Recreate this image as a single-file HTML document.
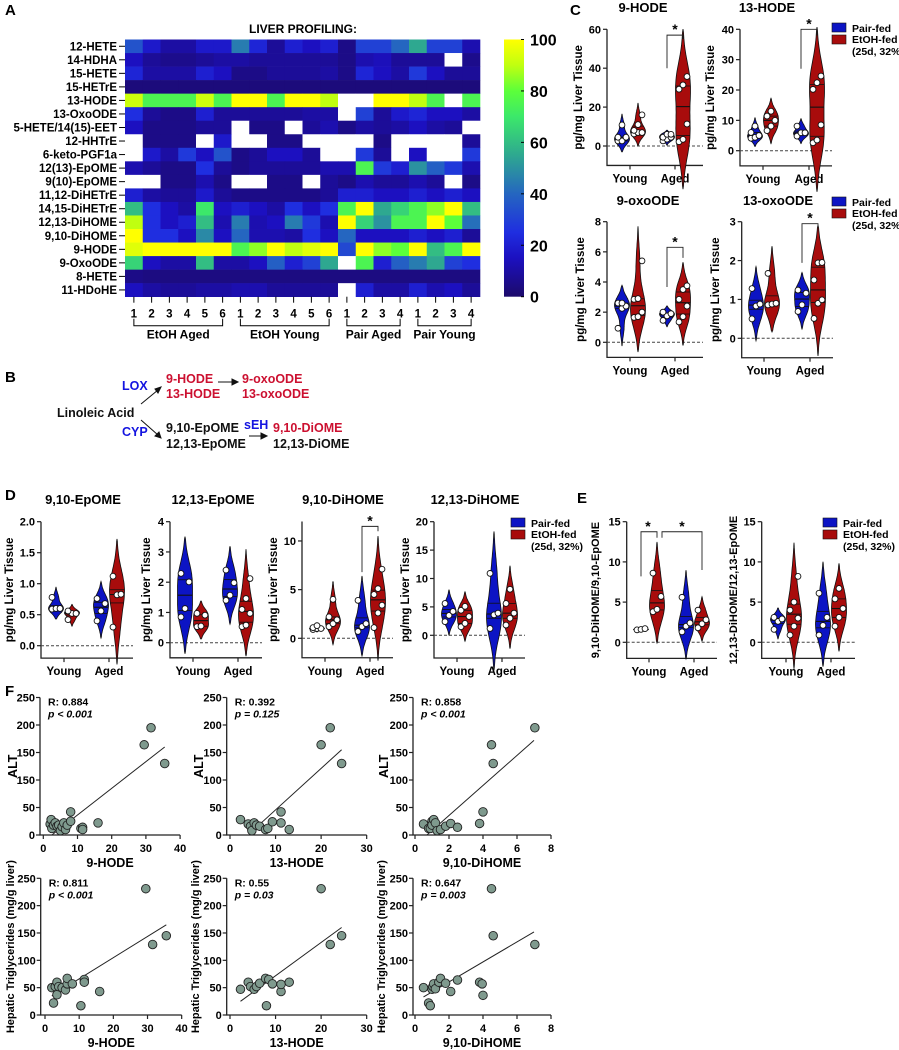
<!DOCTYPE html>
<html><head><meta charset="utf-8">
<style>
html,body{margin:0;padding:0;background:#fff;}
svg{display:block;font-family:"Liberation Sans",Arial,sans-serif;font-weight:bold;}
</style></head>
<body>
<svg id="fig" width="899" height="1050" viewBox="0 0 899 1050" xmlns="http://www.w3.org/2000/svg">
<defs>
<linearGradient id="cbar" x1="0" y1="1" x2="0" y2="0">
<stop offset="0" stop-color="#1c0a6a"/><stop offset="0.15" stop-color="#1c10c0"/><stop offset="0.25" stop-color="#1f2ee0"/><stop offset="0.4" stop-color="#2566c0"/><stop offset="0.55" stop-color="#2ea890"/><stop offset="0.7" stop-color="#3ce86a"/><stop offset="0.8" stop-color="#5cff3a"/><stop offset="0.9" stop-color="#c0ff10"/><stop offset="1" stop-color="#ffff00"/>
</linearGradient>
</defs>
<text x="5" y="15" font-size="15">A</text>
<text x="303" y="33" font-size="12" text-anchor="middle">LIVER PROFILING:</text>
<text x="5" y="382" font-size="15">B</text>
<text x="570" y="15" font-size="15">C</text>
<text x="5" y="500" font-size="15">D</text>
<text x="577" y="503" font-size="15">E</text>
<text x="5" y="696" font-size="15">F</text>
<g font-size="12.5">
<text x="122" y="390" fill="#1414e0">LOX</text>
<text x="166" y="383" fill="#cc1030">9-HODE</text>
<text x="166" y="398" fill="#cc1030">13-HODE</text>
<text x="242" y="383" fill="#cc1030">9-oxoODE</text>
<text x="242" y="398" fill="#cc1030">13-oxoODE</text>
<text x="57" y="417" fill="#111">Linoleic Acid</text>
<text x="122" y="436" fill="#1414e0">CYP</text>
<text x="166" y="432" fill="#111">9,10-EpOME</text>
<text x="166" y="448" fill="#111">12,13-EpOME</text>
<text x="244" y="429" fill="#1414e0">sEH</text>
<text x="273" y="432" fill="#cc1030">9,10-DiOME</text>
<text x="273" y="448" fill="#111">12,13-DiOME</text>
<g stroke="#111" stroke-width="1" fill="#111">
<line x1="141" y1="404" x2="158" y2="390"/><path d="M161,387 l-6,2 l3,4z"/>
<line x1="141" y1="420" x2="158" y2="435"/><path d="M161,438 l-2,-6 l-4,4z"/>
<line x1="218" y1="382" x2="234" y2="382"/><path d="M238,382 l-6,-3 v6z"/>
<line x1="249" y1="436" x2="263" y2="436"/><path d="M267,436 l-6,-3 v6z"/>
</g>
</g>
<g id="heat"></g>
<g id="violins"></g>
<g id="scatters"></g>
</svg>
<script>
// ===== Heatmap data =====
const hmRows = ["12-HETE","14-HDHA","15-HETE","15-HETrE","13-HODE","13-OxoODE","5-HETE/14(15)-EET","12-HHTrE","6-keto-PGF1a","12(13)-EpOME","9(10)-EpOME","11,12-DiHETrE","14,15-DiHETrE","12,13-DiHOME","9,10-DiHOME","9-HODE","9-OxoODE","8-HETE","11-HDoHE"];
const hmCols = ["1","2","3","4","5","6","1","2","3","4","5","6","1","2","3","4","1","2","3","4"];
const hmGroups = ["EtOH Aged","EtOH Young","Pair Aged","Pair Young"];
const hmGroupSizes = [6,6,4,4];
const cbTicks = [0,20,40,60,80,100];
const N = null;
const hmValues = [
[35,18,10,10,18,18,45,22,8,20,15,20,5,30,30,40,55,30,30,12],
[15,8,6,6,8,10,10,8,8,8,8,8,5,12,14,8,8,8,N,6],
[22,10,10,10,20,15,5,5,8,8,8,10,5,22,15,10,28,15,8,8],
[3,3,3,3,3,3,3,3,3,3,3,3,3,3,3,3,3,3,3,3],
[92,75,75,75,92,75,100,100,75,100,100,90,N,N,100,100,90,75,N,75],
[25,8,5,5,20,8,8,8,8,8,10,10,N,30,8,18,22,15,15,10],
[15,5,5,5,8,8,N,5,5,N,8,12,5,10,8,10,15,10,8,N],
[N,5,5,5,N,18,N,N,5,5,N,N,N,N,5,N,N,N,N,8],
[N,18,10,28,15,35,5,8,15,15,8,N,N,28,8,N,15,N,N,28],
[12,8,5,5,25,8,5,8,8,8,8,12,12,75,28,20,50,38,28,12],
[N,N,5,5,12,5,N,N,5,5,N,8,5,12,8,8,12,8,N,5],
[20,10,8,8,18,8,5,5,5,5,5,8,20,20,15,15,20,15,20,15],
[60,25,15,10,70,15,20,15,10,25,15,25,75,100,55,65,75,85,100,60],
[90,25,15,20,60,12,45,12,15,45,28,12,100,65,50,75,75,100,80,42],
[100,25,25,15,48,15,40,12,12,10,25,15,40,15,15,15,20,15,20,8],
[95,100,100,100,100,100,75,85,100,90,95,100,32,100,85,80,100,60,75,100],
[65,15,10,10,60,10,10,15,38,20,30,55,N,75,20,38,45,55,30,25],
[5,4,4,4,4,4,4,4,4,4,4,4,4,4,4,4,4,4,4,4],
[15,10,8,8,10,10,12,12,8,8,8,8,N,20,10,10,20,12,15,8]
];

// ===== Violin data (C, D, E) =====
const c1_youngPair=[2.6,4.5,4.5,10.8,2.6], c1_youngEtoh=[16,11,6.9,6.2,6.9,8], c1_agedPair=[2.6,4.5,6,3.5,4.5,6], c1_agedEtoh=[35.7,31.4,29.2,11.3,3.4,2.2];
const c2_youngPair=[8.1,4.4,4.1,5,6], c2_youngEtoh=[13,11.4,10,8.1,6.6], c2_agedPair=[8.1,5.9,5.9,4.8], c2_agedEtoh=[24.6,22.4,20.2,8.5,2.6,3.5];
const c3_youngPair=[2.6,2.25,0.93,2.6,2.4], c3_youngEtoh=[5.4,2.85,2.0,1.7,1.65,2.9], c3_agedPair=[2.0,1.9,1.75,1.45], c3_agedEtoh=[3.75,3.5,2.85,2.4,1.7,1.35];
const c4_youngPair=[1.28,0.88,0.83,0.5], c4_youngEtoh=[1.67,0.9,0.88,0.86], c4_agedPair=[1.24,1.16,0.86,0.69], c4_agedEtoh=[1.95,1.94,1.5,0.99,0.9,0.51];
const d1_youngPair=[0.78,0.59,0.6,0.6], d1_youngEtoh=[0.56,0.52,0.52,0.42], d1_agedPair=[0.76,0.68,0.56,0.4], d1_agedEtoh=[1.12,0.83,0.82,0.3];
const d2_youngPair=[2.29,2.01,1.13,0.85], d2_youngEtoh=[0.97,0.91,0.55,0.53], d2_agedPair=[2.4,1.98,1.57,1.4], d2_agedEtoh=[2.12,1.46,1.1,0.97,0.58,0.53];
const d3_youngPair=[0.9,1.0,1.1,1.3,1.0], d3_youngEtoh=[4.0,2.2,1.9,1.5,1.2], d3_agedPair=[3.9,1.5,1.2,0.7], d3_agedEtoh=[7.1,5.1,4.5,3.4,2.6,1.1];
const d4_youngPair=[5.6,4.2,3.5,2.4], d4_youngEtoh=[5.1,4.4,3.3,2.1,1.5], d4_agedPair=[10.9,3.9,3.6,1.2], d4_agedEtoh=[8.1,5.6,3.9,3.0,1.8];
const e1_youngPair=[1.55,1.6,1.7], e1_youngEtoh=[8.6,5.7,4.1,3.8], e1_agedPair=[5.6,2.4,2.0,1.3], e1_agedEtoh=[4.0,2.8,2.3,1.8];
const e2_youngPair=[3.1,2.9,2.6,1.6], e2_youngEtoh=[8.2,5,4,3,2,0.9], e2_agedPair=[6.1,3.1,2.1,0.9], e2_agedEtoh=[6.7,5.4,4.2,3.1,2.0];
const groupLabels=["Young","Aged"];

// ===== Scatter data (F) =====
const alt_hode9_x=[2,2.3,2.5,3,3.5,4,4.5,5,5.5,6,6.5,7,8,8,11,11.5,11.5,16,29.5,31.5,35.5];
const alt_hode9_y=[20,28,12,18,22,16,18,8,15,22,10,18,25,42,12,14,10,22,164,195,130];
const alt_hode13_x=[2.3,4,4.5,4.8,5.3,5.8,6.5,7.8,8.3,9.3,11.2,11.2,13,20,22,24.5];
const alt_hode13_y=[28,20,16,8,22,18,16,10,12,24,42,22,10,164,195,130];
const alt_dihome_x=[0.5,0.8,0.9,1,1,1.1,1.2,1.3,1.5,1.8,2.1,2.5,3.8,4,4.5,4.6,7.05];
const alt_dihome_y=[20,12,12,25,18,28,22,8,10,16,21,14,21,42,164,130,195];
const tg_hode9_x=[2,2.5,3,3.5,3.5,4,5,6,6.5,6.5,8,10.5,11.5,11.5,16,29.5,31.5,35.5];
const tg_hode9_y=[50,22,52,60,37,52,50,46,57,67,57,17,65,60,43,231,129,145];
const tg_hode13_x=[2.3,4,4.5,5.3,5.8,6.5,7.8,8,8.5,9.3,11.2,11.2,13,20,22,24.5];
const tg_hode13_y=[47,60,52,47,52,58,67,17,65,57,43,56,60,231,129,145];
const tg_dihome_x=[0.5,0.8,0.9,1,1.05,1.1,1.2,1.4,1.5,1.8,2.1,2.5,3.8,3.95,4,4.5,4.6,7.05];
const tg_dihome_y=[50,22,17,47,52,57,48,60,67,58,43,64,60,57,36,231,145,129];
const fitLines = [[2.5,0,35.5,160],[5,8,24.5,155],[0.7,0,7,172],[2,35,35.5,165],[2.3,25,24.5,160],[0.5,33,7,152]];
const stats = [["R: 0.884","p < 0.001"],["R: 0.392","p = 0.125"],["R: 0.858","p < 0.001"],["R: 0.811","p < 0.001"],["R: 0.55","p = 0.03"],["R: 0.647","p = 0.003"]];
const altTickLabels=["0","50","150","150","200","250"];
const yTicks250=[0,50,100,150,200,250];

// ===== helpers =====
const NS="http://www.w3.org/2000/svg";
function mk(parent,tag,attrs,txt){const e=document.createElementNS(NS,tag);for(const k in attrs)e.setAttribute(k,attrs[k]);if(txt!==undefined)e.textContent=txt;parent.appendChild(e);return e;}
const stops=[[0,[28,10,106]],[15,[28,16,192]],[25,[31,46,224]],[40,[37,102,192]],[55,[46,168,144]],[70,[60,232,106]],[80,[92,255,58]],[90,[192,255,16]],[100,[255,255,0]]];
function cmap(v){for(let i=1;i<stops.length;i++){if(v<=stops[i][0]){const a=stops[i-1],b=stops[i];const t=(v-a[0])/(b[0]-a[0]);const c=a[1].map((x,j)=>Math.round(x+(b[1][j]-x)*t));return `rgb(${c})`;}}return 'rgb(255,255,0)';}

// ===== Heatmap =====
(function(){
const g=document.getElementById('heat');
const x0=125,x1=480,y0=39.5,y1=296.7;
const cw=(x1-x0)/hmCols.length, rh=(y1-y0)/hmRows.length;
hmRows.forEach((r,i)=>{
  const t=mk(g,'text',{x:117,y:y0+rh*i+rh/2+4,'font-size':11.5,'text-anchor':'end'},r);
  
  
  const tk=mk(g,'line',{x1:119,x2:125,y1:y0+rh*i+rh/2,y2:y0+rh*i+rh/2,stroke:'#000'});
  
  
  hmValues[i].forEach((v,j)=>{
    const c=mk(g,'rect',{x:x0+cw*j,y:y0+rh*i,width:cw+0.3,height:rh+0.3,fill:v===null?'#ffffff':cmap(v)});
    
    
  });
});
hmCols.forEach((c,j)=>{
  const cx=x0+cw*j+cw/2;
  const l=mk(g,'line',{x1:cx,x2:cx,y1:y1,y2:y1+6,stroke:'#000'});
  
  
  const t=mk(g,'text',{x:cx,y:y1+21,'font-size':11.5,'text-anchor':'middle'},c);
  
  
});
let start=0;
hmGroups.forEach((gname,k)=>{
  const n=hmGroupSizes[k];
  const a=x0+cw*start+cw/2, b=x0+cw*(start+n-1)+cw/2;
  const p=mk(g,'path',{d:`M${a},${y1+22}V${y1+29}H${b}V${y1+22}`,fill:'none',stroke:'#000'});
  
  
  const t=mk(g,'text',{x:(a+b)/2,y:y1+42,'font-size':12,'text-anchor':'middle'},gname);
  
  
  start+=n;
});
const cb=mk(g,'rect',{x:504,y:y0,width:20,height:y1-y0,fill:'url(#cbar)'});


cbTicks.forEach(v=>{
  const y=y1-(y1-y0)*v/100;
  const l=mk(g,'line',{x1:521,x2:524,y1:y,y2:y,stroke:'#000'});
  
  
  const t=mk(g,'text',{x:530,y:y+6,'font-size':16},String(v));
  
  
});
})();

// ===== Violins =====
const BLUE='#0c14c4', RED='#a80c0c';
function kde(vals,x,bw){let s=0;for(const v of vals)s+=Math.exp(-0.5*((x-v)/bw)**2);return s;}
function quant(a,q){const s=[...a].sort((x,y)=>x-y);const p=(s.length-1)*q;const lo=Math.floor(p),hi=Math.ceil(p);return s[lo]+(s[hi]-s[lo])*(p-lo);}
function drawViolin(g,vals,cx,Y,color,halfW){
  const n=vals.length,mean=vals.reduce((a,b)=>a+b,0)/n;
  let sd=Math.sqrt(vals.reduce((a,b)=>a+(b-mean)**2,0)/Math.max(1,n-1));
  const rng=Math.max(...vals)-Math.min(...vals);
  let bw=Math.max(1.06*sd*Math.pow(n,-0.2),rng*0.08,1e-3);
  const lo=Math.min(...vals)-2.2*bw, hi=Math.max(...vals)+2.2*bw;
  const K=50;let dens=[],mx=0;
  for(let i=0;i<=K;i++){const x=lo+(hi-lo)*i/K;const d=(i===0||i===K)?0:kde(vals,x,bw);dens.push([x,d]);if(d>mx)mx=d;}
  const w=v=>kde(vals,v,bw)/mx*halfW;
  let L=[],R=[];
  dens.forEach(([x,d])=>{const ww=d/mx*halfW;L.push(`${(cx-ww).toFixed(1)},${Y(x).toFixed(1)}`);R.unshift(`${(cx+ww).toFixed(1)},${Y(x).toFixed(1)}`);});
  const p=mk(g,'path',{d:'M'+L.join('L')+'L'+R.join('L')+'Z',fill:color,stroke:'#111','stroke-width':0.8});
  
  
  [0.25,0.5,0.75].forEach(q=>{const v=quant(vals,q);const ww=w(v);
    const l=mk(g,'line',{x1:cx-ww,x2:cx+ww,y1:Y(v),y2:Y(v),stroke:'#111','stroke-width':q===0.5?1.1:0.8});
    
    });
  const sorted=[...vals].sort((a,b)=>a-b);
  sorted.forEach((v,i)=>{const off=((i%3)-1)*4;
    const c=mk(g,'circle',{cx:cx+off,cy:Y(v),r:2.9,fill:'#fff',stroke:'#111','stroke-width':0.9});
    
    });
}
function violinPanel(cfg){
  const g=mk(document.getElementById('violins'),'g',{});
  
  
  const k=(cfg.p0-cfg.pTop)/cfg.yMax;
  const Y=v=>cfg.p0-v*k;
  const yBot=Y(cfg.yMin);
  const ax=mk(g,'path',{d:`M${cfg.ax},${cfg.pTop}V${yBot}H${cfg.right}`,fill:'none',stroke:'#222','stroke-width':1.3});
  
  
  const z=mk(g,'line',{x1:cfg.ax,x2:cfg.right,y1:Y(0),y2:Y(0),stroke:'#444','stroke-dasharray':'3,2'});
  
  
  cfg.ticks.forEach(v=>{
    const l=mk(g,'line',{x1:cfg.ax-4,x2:cfg.ax,y1:Y(v),y2:Y(v),stroke:'#222','stroke-width':1.2});
    
    
    const t=mk(g,'text',{x:cfg.ax-6,y:Y(v)+4,'font-size':11,'text-anchor':'end'},cfg.dec?v.toFixed(1):String(v));
    
    
  });
  cfg.groups.forEach((gx,i)=>{
    const l=mk(g,'line',{x1:gx,x2:gx,y1:yBot,y2:yBot+4,stroke:'#222','stroke-width':1.2});
    
    
    const t=mk(g,'text',{x:gx,y:yBot+17,'font-size':11.5,'text-anchor':'middle'},groupLabels[i]);
    
    
  });
  const hw=cfg.hw||7.5;
  drawViolin(g,cfg.data[0],cfg.groups[0]-8,Y,BLUE,hw);
  drawViolin(g,cfg.data[1],cfg.groups[0]+8,Y,RED,hw);
  drawViolin(g,cfg.data[2],cfg.groups[1]-8,Y,BLUE,hw);
  drawViolin(g,cfg.data[3],cfg.groups[1]+8,Y,RED,hw);
  const tt=mk(g,'text',{x:cfg.tx,y:cfg.ty,'font-size':13,'text-anchor':'middle'},cfg.title);
  
  
  const yc=(cfg.pTop+yBot)/2;
  const yl=mk(g,'text',{x:0,y:0,'font-size':cfg.ylfs||11.5,'text-anchor':'middle',transform:`translate(${cfg.ylx},${yc}) rotate(-90)`},cfg.ylabel);
  
  
  (cfg.brackets||[]).forEach(b=>{
    const [xa,xb,top,la,lb,sx]=b;
    const p=mk(g,'path',{d:`M${xa},${Y(la)}V${Y(top)}H${xb}V${Y(lb)}`,fill:'none',stroke:'#222','stroke-width':0.9});
    
    
    const s=mk(g,'text',{x:sx!==undefined?sx:(xa+xb)/2,y:Y(top)-1,'font-size':14,'text-anchor':'middle'},'*');
    
    
  });
}
const PL='pg/mg Liver Tissue';
violinPanel({name:'9-hode-violin',ax:607,right:703,yMin:-10,yMax:60,pTop:29.3,p0:146,ticks:[0,20,40,60],groups:[630,675],data:[c1_youngPair,c1_youngEtoh,c1_agedPair,c1_agedEtoh],title:'9-HODE',tx:643,ty:12,ylabel:PL,ylx:582,brackets:[[667,683,57,40,55]]});
violinPanel({name:'13-hode-violin',ax:740,right:832,yMin:-5,yMax:40,pTop:29.3,p0:150.7,ticks:[0,10,20,30,40],groups:[763,809],data:[c2_youngPair,c2_youngEtoh,c2_agedPair,c2_agedEtoh],title:'13-HODE',tx:767,ty:12,ylabel:PL,ylx:714,brackets:[[801,817,40,27,38]]});
violinPanel({name:'9-oxoode-violin',ax:607,right:703,yMin:-1,yMax:8,pTop:221.7,p0:342.3,ticks:[0,2,4,6,8],groups:[630,675],data:[c3_youngPair,c3_youngEtoh,c3_agedPair,c3_agedEtoh],title:'9-oxoODE',tx:648,ty:205,ylabel:PL,ylx:584,brackets:[[667,683,6.3,3.67,5.6]]});
violinPanel({name:'13-oxoode-violin',ax:741.7,right:833,yMin:-0.5,yMax:3,pTop:221.7,p0:338.3,ticks:[0,1,2,3],groups:[764,810],data:[c4_youngPair,c4_youngEtoh,c4_agedPair,c4_agedEtoh],title:'13-oxoODE',tx:778,ty:205,ylabel:PL,ylx:719,brackets:[[802,818,2.95,1.94,2.85]]});
violinPanel({name:'9-10-epome-violin',ax:41,right:133,yMin:-0.2,yMax:2,pTop:521.7,p0:645.7,ticks:[0,0.5,1,1.5,2],dec:true,groups:[64,109],data:[d1_youngPair,d1_youngEtoh,d1_agedPair,d1_agedEtoh],title:'9,10-EpOME',tx:83,ty:504,ylabel:PL,ylx:13});
violinPanel({name:'12-13-epome-violin',ax:170,right:262,yMin:-0.5,yMax:4,pTop:521.7,p0:642.7,ticks:[0,1,2,3,4],groups:[193,238],data:[d2_youngPair,d2_youngEtoh,d2_agedPair,d2_agedEtoh],title:'12,13-EpOME',tx:213,ty:504,ylabel:PL,ylx:150});
violinPanel({name:'9-10-dihome-violin',ax:302,right:393,yMin:-2,yMax:12,pTop:521.5,p0:638.3,ticks:[0,5,10],groups:[325,370],data:[d3_youngPair,d3_youngEtoh,d3_agedPair,d3_agedEtoh],title:'9,10-DiHOME',tx:343,ty:504,ylabel:PL,ylx:277,brackets:[[362,378,11.5,6.8,11]]});
violinPanel({name:'12-13-dihome-violin',ax:434,right:525,yMin:-4,yMax:20,pTop:521.7,p0:635.3,ticks:[0,5,10,15,20],groups:[457,502],data:[d4_youngPair,d4_youngEtoh,d4_agedPair,d4_agedEtoh],title:'12,13-DiHOME',tx:475,ty:504,ylabel:PL,ylx:409});
violinPanel({name:'dihome-epome-ratio-9-10-violin',ax:626.7,right:717,yMin:-2,yMax:15,pTop:521.7,p0:642.3,ticks:[0,5,10,15],groups:[649,694],data:[e1_youngPair,e1_youngEtoh,e1_agedPair,e1_agedEtoh],title:'',tx:0,ty:0,ylabel:'9,10-DiHOME/9,10-EpOME',ylx:599,ylfs:11,brackets:[[641,657,13.75,8.2,13,648],[662,702,13.75,13,9,682]]});
violinPanel({name:'dihome-epome-ratio-12-13-violin',ax:761.7,right:855,yMin:-2,yMax:15,pTop:521.7,p0:642.3,ticks:[0,5,10,15],groups:[786,831],data:[e2_youngPair,e2_youngEtoh,e2_agedPair,e2_agedEtoh],title:'',tx:0,ty:0,ylabel:'12,13-DiHOME/12,13-EpOME',ylx:737,ylfs:11});

// legends
function legend(x,y,name){
  const g=mk(document.getElementById('violins'),'g',{});
  
  
  const r1=mk(g,'rect',{x:x,y:y-5,width:14,height:9,fill:BLUE,stroke:'#111','stroke-width':0.6});
  
  
  const t1=mk(g,'text',{x:x+20,y:y+4,'font-size':10.5},'Pair-fed');
  
  
  const r2=mk(g,'rect',{x:x,y:y+7,width:14,height:9,fill:RED,stroke:'#111','stroke-width':0.6});
  
  
  const t2=mk(g,'text',{x:x+20,y:y+15,'font-size':10.5},'EtOH-fed');
  
  
  const t3=mk(g,'text',{x:x+20,y:y+27,'font-size':10.5},'(25d, 32%)');
  
  
}
legend(832,28,'legend-c-top');
legend(832,202,'legend-c-bottom');
legend(511,523,'legend-d');
legend(823,523,'legend-e');

// ===== Scatter panels =====
function scatterPanel(cfg){
  const g=mk(document.getElementById('scatters'),'g',{});
  
  
  const X=v=>cfg.x0+v*cfg.kx;
  const Y=v=>cfg.y0-v*(cfg.y0-cfg.y250)/250;
  const xr=X(cfg.xTicks[cfg.xTicks.length-1]);
  const ax=mk(g,'path',{d:`M${cfg.ax},${Y(250)}V${Y(0)}H${xr}`,fill:'none',stroke:'#222','stroke-width':1.3});
  
  
  yTicks250.forEach((v,i)=>{
    const l=mk(g,'line',{x1:cfg.ax-4,x2:cfg.ax,y1:Y(v),y2:Y(v),stroke:'#222','stroke-width':1.2});
    
    
    const t=mk(g,'text',{x:cfg.ax-5,y:Y(v)+4,'font-size':11,'text-anchor':'end'},cfg.yLabels[i]);
    
    
  });
  cfg.xTicks.forEach(v=>{
    const l=mk(g,'line',{x1:X(v),x2:X(v),y1:Y(0),y2:Y(0)+4,stroke:'#222','stroke-width':1.2});
    
    
    const t=mk(g,'text',{x:X(v),y:Y(0)+17,'font-size':11,'text-anchor':'middle'},String(v));
    
    
  });
  const xt=mk(g,'text',{x:(cfg.ax+xr)/2,y:Y(0)+32,'font-size':12.5,'text-anchor':'middle'},cfg.xTitle);
  
  
  const yl=mk(g,'text',{x:0,y:0,'font-size':cfg.ylfs,'text-anchor':'middle',transform:`translate(${cfg.ylx},${(Y(0)+Y(250))/2}) rotate(-90)`},cfg.yTitle);
  
  
  const f=cfg.fit;
  const fl=mk(g,'line',{x1:X(f[0]),y1:Y(f[1]),x2:X(f[2]),y2:Y(f[3]),stroke:'#222','stroke-width':1});
  
  
  cfg.xs.forEach((xv,i)=>{
    const c=mk(g,'circle',{cx:X(xv),cy:Y(cfg.ys[i]),r:4.3,fill:'#7f9a8e',stroke:'#222','stroke-width':0.9});
    
    
  });
  const r=mk(g,'text',{x:cfg.ax+8,y:Y(250)+8,'font-size':10.5},cfg.stat[0]);
  
  
  const p=mk(g,'text',{x:cfg.ax+8,y:Y(250)+20,'font-size':10.5,'font-style':'italic'},cfg.stat[1]);
  
  
}
const yNum=yTicks250.map(String);
const TG='Hepatic Triglycerides (mg/g liver)';
scatterPanel({name:'alt-vs-9-hode',ax:40,x0:43.3,kx:3.42,xTicks:[0,10,20,30,40],y0:835,y250:697.5,xs:alt_hode9_x,ys:alt_hode9_y,fit:fitLines[0],stat:stats[0],xTitle:'9-HODE',yTitle:'ALT',ylx:17,ylfs:12.5,yLabels:altTickLabels});
scatterPanel({name:'alt-vs-13-hode',ax:226.7,x0:230,kx:4.556,xTicks:[0,10,20,30],y0:835,y250:697.5,xs:alt_hode13_x,ys:alt_hode13_y,fit:fitLines[1],stat:stats[1],xTitle:'13-HODE',yTitle:'ALT',ylx:203,ylfs:12.5,yLabels:yNum});
scatterPanel({name:'alt-vs-9-10-dihome',ax:413,x0:415,kx:17,xTicks:[0,2,4,6,8],y0:835,y250:697.5,xs:alt_dihome_x,ys:alt_dihome_y,fit:fitLines[2],stat:stats[2],xTitle:'9,10-DiHOME',yTitle:'ALT',ylx:388,ylfs:12.5,yLabels:yNum});
scatterPanel({name:'tg-vs-9-hode',ax:40.7,x0:45,kx:3.417,xTicks:[0,10,20,30,40],y0:1015,y250:878.3,xs:tg_hode9_x,ys:tg_hode9_y,fit:fitLines[3],stat:stats[3],xTitle:'9-HODE',yTitle:TG,ylx:14,ylfs:11,yLabels:yNum});
scatterPanel({name:'tg-vs-13-hode',ax:226.7,x0:230,kx:4.556,xTicks:[0,10,20,30],y0:1015,y250:878.3,xs:tg_hode13_x,ys:tg_hode13_y,fit:fitLines[4],stat:stats[4],xTitle:'13-HODE',yTitle:TG,ylx:199,ylfs:11,yLabels:yNum});
scatterPanel({name:'tg-vs-9-10-dihome',ax:413,x0:415,kx:17,xTicks:[0,2,4,6,8],y0:1015,y250:878.3,xs:tg_dihome_x,ys:tg_dihome_y,fit:fitLines[5],stat:stats[5],xTitle:'9,10-DiHOME',yTitle:TG,ylx:385,ylfs:11,yLabels:yNum});
</script>
</body></html>
